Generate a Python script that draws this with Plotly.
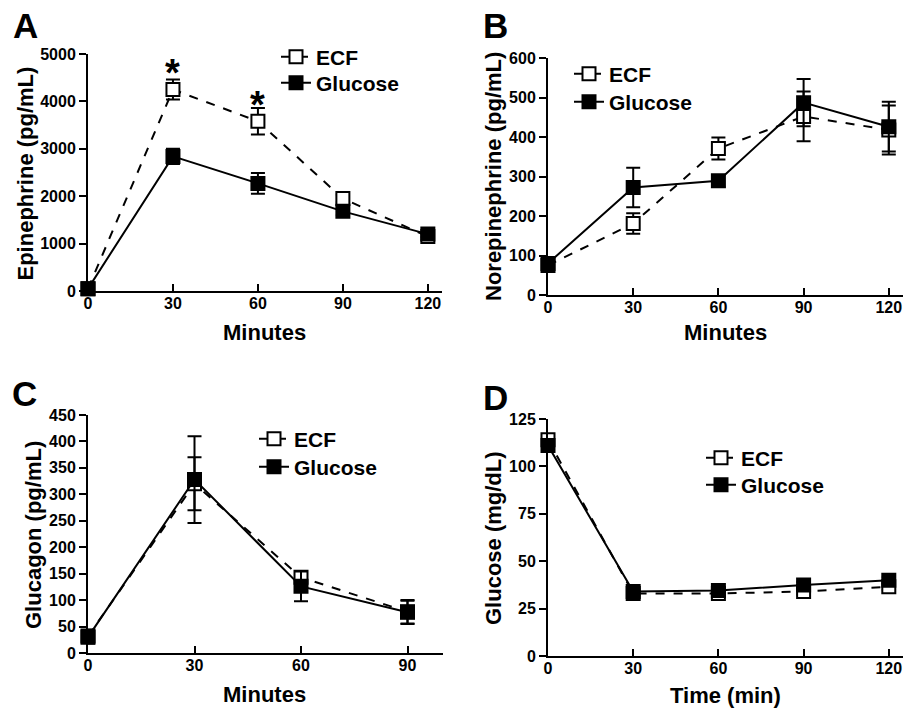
import plotly.graph_objects as go

W, H = 904, 709
FONT = "Liberation Sans, Arial, sans-serif"

# ---------------- data ----------------
# Panel A: Epinephrine (pg/mL)
a_x = [0, 30, 60, 90, 120]
a_ecf = [50, 4250, 3580, 1950, 1150]
a_ecf_err = [40, 210, 280, 80, 80]
a_glu = [50, 2840, 2270, 1680, 1200]
a_glu_err = [40, 160, 220, 80, 60]
a_star_x = [30, 60]
a_star_y = [4590, 3930]

# Panel B: Norepinephrine (pg/mL)
b_x = [0, 30, 60, 90, 120]
b_ecf = [75, 181, 371, 452, 418]
b_ecf_err = [12, 26, 28, 63, 62]
b_glu = [80, 272, 289, 487, 426]
b_glu_err = [12, 50, 15, 60, 63]

# Panel C: Glucagon (pg/mL)
c_x = [0, 30, 60, 90]
c_ecf = [32, 320, 143, 78]
c_ecf_err = [12, 50, 10, 22]
c_glu = [30, 328, 126, 77]
c_glu_err = [12, 82, 28, 22]

# Panel D: Glucose (mg/dL)
d_x = [0, 30, 60, 90, 120]
d_ecf = [114, 33, 33, 34, 36.5]
d_ecf_err = [2, 1.5, 1.5, 1.5, 1.5]
d_glu = [111, 34, 34.5, 37.5, 40]
d_glu_err = [3, 1.5, 1.5, 1.5, 1.5]

series_names = ["ECF", "Glucose"]

panels = [
    dict(x=a_x, ecf=a_ecf, ecf_err=a_ecf_err, glu=a_glu, glu_err=a_glu_err,
         xr=[0, 125], yr=[0, 5000], ytick=1000, xticks=[0, 30, 60, 90, 120],
         xpx=(88, 442), ypx=(291, 54), leg=(276, 57, 83),
         ytitle="Epinephrine (pg/mL)", ytpos=(25, 173.5),
         xtitle="Minutes", xtpos=(264, 333), letter="A", lpos=(25, 26)),
    dict(x=b_x, ecf=b_ecf, ecf_err=b_ecf_err, glu=b_glu, glu_err=b_glu_err,
         xr=[0, 125], yr=[0, 600], ytick=100, xticks=[0, 30, 60, 90, 120],
         xpx=(548, 903), ypx=(295, 58), leg=(569, 74, 102),
         ytitle="Norepinephrine (pg/mL)", ytpos=(493, 177),
         xtitle="Minutes", xtpos=(725, 333), letter="B", lpos=(495, 26)),
    dict(x=c_x, ecf=c_ecf, ecf_err=c_ecf_err, glu=c_glu, glu_err=c_glu_err,
         xr=[0, 100], yr=[0, 450], ytick=50, xticks=[0, 30, 60, 90],
         xpx=(88, 443), ypx=(653, 415), leg=(254, 439, 467),
         ytitle="Glucagon (pg/mL)", ytpos=(33, 535),
         xtitle="Minutes", xtpos=(264, 694), letter="C", lpos=(24, 393)),
    dict(x=d_x, ecf=d_ecf, ecf_err=d_ecf_err, glu=d_glu, glu_err=d_glu_err,
         xr=[0, 125], yr=[0, 125], ytick=25, xticks=[0, 30, 60, 90, 120],
         xpx=(548, 903), ypx=(656, 419), leg=(701, 458, 485),
         ytitle="Glucose (mg/dL)", ytpos=(493, 538),
         xtitle="Time (min)", xtpos=(725, 695), letter="D", lpos=(495, 397)),
]

fig = go.Figure()
annotations = []
legend_layout = {}

for i, p in enumerate(panels):
    sfx = "" if i == 0 else str(i + 1)
    xa, ya = "x" + sfx, "y" + sfx
    lg1 = "legend" if i == 0 else "legend%d" % (2 * i + 1)
    lg2 = "legend%d" % (2 * i + 2)
    fig.add_trace(go.Scatter(
        x=p["x"], y=p["ecf"], name=series_names[0], mode="lines+markers",
        xaxis=xa, yaxis=ya, legend=lg1, cliponaxis=False,
        line=dict(color="black", width=2, dash="dash"),
        marker=dict(symbol="square", size=13, color="white",
                    line=dict(color="black", width=2)),
        error_y=dict(type="data", array=p["ecf_err"], color="black",
                     thickness=2, width=7),
    ))
    fig.add_trace(go.Scatter(
        x=p["x"], y=p["glu"], name=series_names[1], mode="lines+markers",
        xaxis=xa, yaxis=ya, legend=lg2, cliponaxis=False,
        line=dict(color="black", width=2),
        marker=dict(symbol="square", size=13, color="black",
                    line=dict(color="black", width=2)),
        error_y=dict(type="data", array=p["glu_err"], color="black",
                     thickness=2, width=7),
    ))
    axcommon = dict(showline=True, linewidth=2, linecolor="black",
                    ticklen=7, tickwidth=2, tickcolor="black",
                    showgrid=False, zeroline=False, automargin=False,
                    tickfont=dict(family=FONT, size=16, color="black", weight="bold"))
    fig.update_layout(**{
        "xaxis" + sfx: dict(domain=[p["xpx"][0] / W, p["xpx"][1] / W],
                            range=p["xr"], tickvals=p["xticks"], ticks="inside",
                            ticklabelstandoff=-3, anchor=ya, **axcommon),
        "yaxis" + sfx: dict(domain=[1 - p["ypx"][0] / H, 1 - p["ypx"][1] / H],
                            range=p["yr"], dtick=p["ytick"], tick0=0, ticks="outside",
                            anchor=xa, **axcommon),
    })
    lx, ly1, ly2 = p["leg"]
    for lg, ly in ((lg1, ly1), (lg2, ly2)):
        legend_layout[lg] = dict(
            x=lx / W, y=1 - ly / H, xanchor="left", yanchor="middle",
            bgcolor="rgba(0,0,0,0)", borderwidth=0,
            font=dict(family=FONT, size=21, color="black", weight="bold"),
        )
    annotations.append(dict(text=p["ytitle"], x=p["ytpos"][0] / W, y=1 - p["ytpos"][1] / H,
                            xref="paper", yref="paper", showarrow=False, textangle=-90,
                            xanchor="center", yanchor="middle",
                            font=dict(family=FONT, size=22, color="black", weight="bold")))
    annotations.append(dict(text=p["xtitle"], x=p["xtpos"][0] / W, y=1 - p["xtpos"][1] / H,
                            xref="paper", yref="paper", showarrow=False,
                            xanchor="center", yanchor="middle",
                            font=dict(family=FONT, size=22, color="black", weight="bold")))
    annotations.append(dict(text=p["letter"], x=p["lpos"][0] / W, y=1 - p["lpos"][1] / H,
                            xref="paper", yref="paper", showarrow=False,
                            xanchor="center", yanchor="middle",
                            font=dict(family=FONT, size=35, color="black", weight="bold")))

for sx, sy in zip(a_star_x, a_star_y):
    annotations.append(dict(text="*", x=sx, y=sy, xref="x", yref="y", showarrow=False,
                            xanchor="center", yanchor="middle",
                            font=dict(family=FONT, size=38, color="black", weight="bold")))

fig.update_layout(
    width=W, height=H, margin=dict(l=0, r=0, t=0, b=0, autoexpand=False),
    paper_bgcolor="white", plot_bgcolor="white",
    showlegend=True, annotations=annotations,
    font=dict(family=FONT, color="black"),
    **legend_layout,
)

fig.write_html("out.html")
